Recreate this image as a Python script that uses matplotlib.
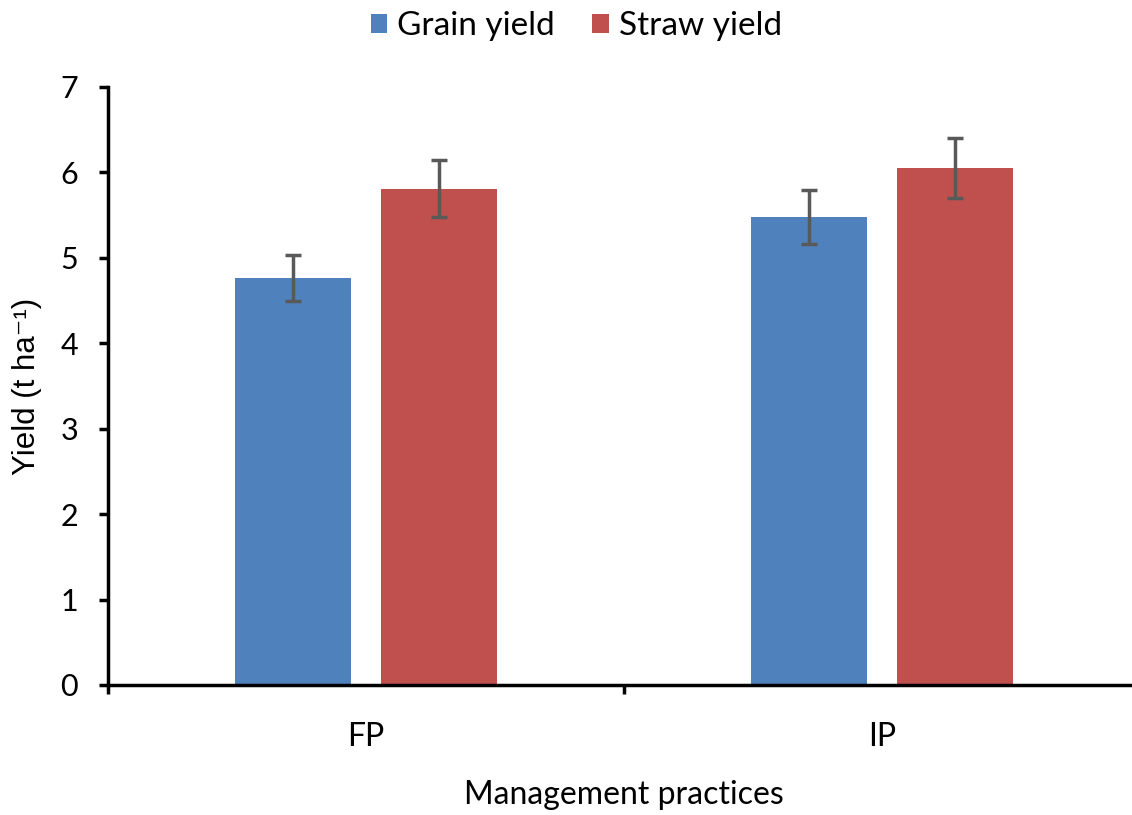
import matplotlib
matplotlib.use("Agg")
import matplotlib.pyplot as plt
import numpy as np

# ── Data ──────────────────────────────────────────────────────────────────────
practices = ["FP", "IP"]
grain_yield = [4.76, 5.48]
grain_err = [0.27, 0.32]
straw_yield = [5.81, 6.05]
straw_err = [0.33, 0.35]
y_ticks = [0, 1, 2, 3, 4, 5, 6, 7]

BLUE = "#4F81BD"
RED = "#C0504D"
ERR = "#595959"

plt.rcParams["font.family"] = ["Lato", "DejaVu Sans"]

fig = plt.figure(figsize=(11.32, 8.15), dpi=100)
ax = fig.add_axes([108 / 1132, 130 / 815, 1032 / 1132, 598 / 815])

x = np.arange(len(practices))
width = 0.225
off = 0.142
err_kw = dict(ecolor=ERR, elinewidth=2.5, capsize=6, capthick=2.5)

ax.bar(x - off, grain_yield, width, yerr=grain_err, color=BLUE,
       label="Grain yield", error_kw=err_kw)
ax.bar(x + off, straw_yield, width, yerr=straw_err, color=RED,
       label="Straw yield", error_kw=err_kw)

ax.set_xlim(-0.5, 1.5)
ax.set_ylim(0, 7)
ax.set_yticks(y_ticks)
ax.set_xticks(x)
ax.set_xticklabels(practices)
ax.set_xticks([-0.5, 0.5, 1.5], minor=True)
ax.tick_params(axis="x", which="major", length=0, pad=27, labelsize=23)
ax.tick_params(axis="x", which="minor", length=6.5, width=2.5, direction="out")
ax.tick_params(axis="y", length=6.5, width=2.5, direction="out", pad=15,
               labelsize=22)

for side in ("top", "right"):
    ax.spines[side].set_visible(False)
for side in ("left", "bottom"):
    ax.spines[side].set_linewidth(2.5)

ax.set_xlabel("Management practices", fontsize=23, labelpad=20)
ax.set_ylabel("Yield (t ha\u207b\u00b9)", fontsize=22.5, labelpad=13,
              family=["Liberation Sans", "DejaVu Sans"])

fig.legend(loc="upper center", bbox_to_anchor=(0.509, 1.023), ncol=2,
           frameon=False, fontsize=24, handlelength=0.5, handleheight=0.5,
           handletextpad=0.3, columnspacing=1.1)

fig.savefig("out.png", dpi=100)
